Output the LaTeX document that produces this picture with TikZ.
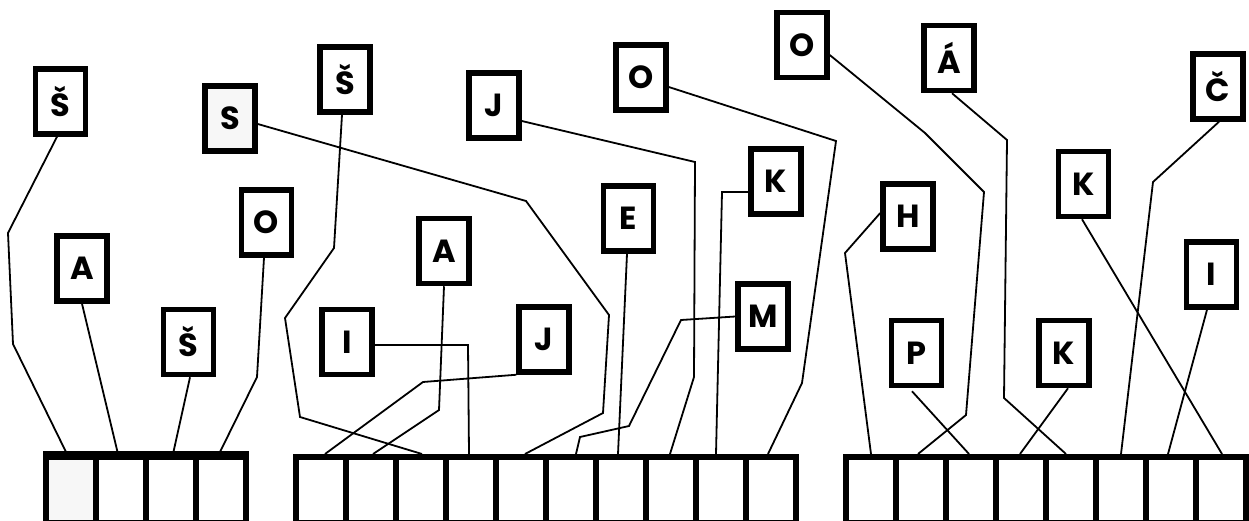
\documentclass[tikz,border=0pt]{standalone}
\usepackage{fontspec}
\setmainfont{Poppins}
\usetikzlibrary{calc}
\definecolor{lightfill}{HTML}{F7F7F7}
\tikzset{
  lbl/.style={draw=black, line width=5.5pt, fill=white, minimum width=50pt, minimum height=65pt, inner sep=0pt,
    font=\fontsize{32}{32}\selectfont\bfseries},
  cell/.style={draw=black, line width=6pt, fill=white, minimum width=50pt, minimum height=66pt, inner sep=0pt},
  conn/.style={draw=black, line width=1.8pt, line join=miter}
}
\begin{document}
\begin{tikzpicture}[x=1pt,y=-1pt]
\useasboundingbox (0,0) rectangle (1249,521);
% cells
\foreach \i/\xx in {1/71,2/121,3/171,4/221} {\node[cell] (L\i) at (\xx,490) {};}
\foreach \i/\xx in {1/321,2/371,3/421,4/471,5/521,6/571,7/621,8/671,9/721,10/771} {\node[cell] (M\i) at (\xx,490) {};}
\foreach \i/\xx in {1/871,2/921,3/971,4/1021,5/1071,6/1121,7/1171,8/1221} {\node[cell] (R\i) at (\xx,490) {};}
\node[cell, fill=lightfill] at (L1) {};
\draw[line width=6pt] (L1.north west) -- (L4.north east);
% labels
\node[lbl] (sa) at (60.5,101.5) {Š};
\node[lbl, fill=lightfill] (s) at (230,118.5) {S};
\node[lbl] (oa) at (266.5,222.5) {O};
\node[lbl] (aa) at (82,268.5) {A};
\node[lbl] (sb) at (188.5,342) {Š};
\node[lbl] (ia) at (347,342) {I};
\node[lbl] (sc) at (345,79.5) {Š};
\node[lbl] (ja) at (494,105.5) {J};
\node[lbl] (ab) at (444,251) {A};
\node[lbl] (jb) at (544,339.5) {J};
\node[lbl] (ob) at (641,77.5) {O};
\node[lbl] (e) at (628.5,218.5) {E};
\node[lbl] (ka) at (776,181.5) {K};
\node[lbl] (m) at (763,316.5) {M};
\node[lbl] (oc) at (802,45) {O};
\node[lbl] (aacute) at (949,58) {Á};
\node[lbl] (c) at (1218,86.5) {Č};
\node[lbl] (h) at (908,216.5) {H};
\node[lbl] (kb) at (1083.5,184) {K};
\node[lbl] (ib) at (1211.5,274.5) {I};
\node[lbl] (p) at (916.5,353) {P};
\node[lbl] (kc) at (1064,353) {K};
% connectors, left group
\draw[conn] ($(sa.south)+(-3.5,0)$) -- (8,233) -- (13,344) -- ($(L1.north)+(-4,0)$);
\draw[conn] (aa.south) -- ($(L2.north)+(-3,0)$);
\draw[conn] ($(sb.south)+(1.5,0)$) -- ($(L3.north)+(2,0)$);
\draw[conn] ($(oa.south)+(-2.5,0)$) -- (257,377) -- ($(L4.north)+(-2,0)$);
% middle group
\draw[conn] ($(sc.south)+(-3,0)$) -- (334,248) -- (285,318) -- (300,417) -- ($(M3.north)+(1,0)$);
\draw[conn] ($(s.east)+(0,5.5)$) -- (526,201) -- (609,315) -- (603,413) -- ($(M5.north)+(4,0)$);
\draw[conn] (ab.south) -- (439,410) -- ($(M2.north)+(2,0)$);
\draw[conn] (jb.south west) -- (423,382) -- ($(M1.north)+(4,0)$);
\draw[conn] ($(ia.east)+(0,3)$) -- (468,345) -- ($(M4.north)+(-2,0)$);
\draw[conn] ($(ja.east)+(0,15.5)$) -- (695,162) -- (694,377) -- ($(M8.north)+(-1,0)$);
\draw[conn] ($(ob.east)+(0,9.5)$) -- (836,141) -- (802,383) -- ($(M10.north)+(-3,0)$);
\draw[conn] ($(e.south)+(-1.5,0)$) -- ($(M7.north)+(-3,0)$);
\draw[conn] ($(ka.west)+(0,10.5)$) -- (722,192) -- ($(M9.north)+(-5,0)$);
\draw[conn] (m.west) -- (681,320) -- (629,426) -- (580,437) -- ($(M6.north)+(5,0)$);
% right group
\draw[conn] ($(oc.east)+(0,10)$) -- (925,133) -- (984,192) -- (966,415) -- ($(R2.north)+(-3,0)$);
\draw[conn] ($(aacute.south)+(3,0)$) -- (1007,140) -- (1004,398) -- ($(R5.north)+(-5,0)$);
\draw[conn] ($(h.west)+(0,-3.5)$) -- (845,253) -- (R1.north);
\draw[conn] ($(p.south)+(-4.5,3)$) -- ($(R3.north)+(-2,0)$);
\draw[conn] ($(kc.south)+(4,0)$) -- ($(R4.north)+(-1,0)$);
\draw[conn] ($(kb.south)+(-1.5,0)$) -- ($(R8.north)+(1,0)$);
\draw[conn] ($(c.south)+(1,0)$) -- (1153,182) -- (R6.north);
\draw[conn] ($(ib.south)+(-4.5,0)$) -- ($(R7.north)+(-3,0)$);
\end{tikzpicture}
\end{document}
